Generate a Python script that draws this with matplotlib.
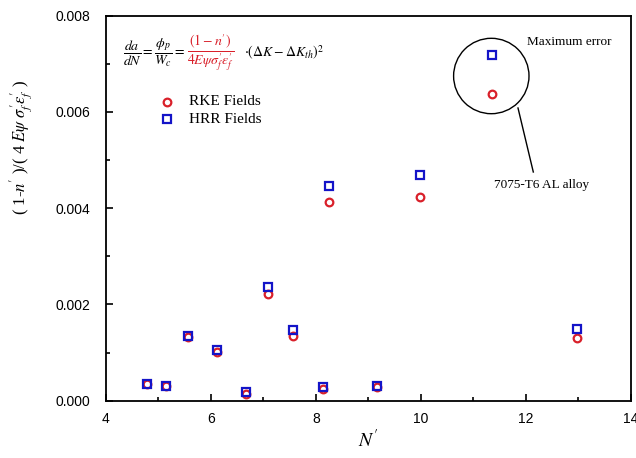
import numpy as np
import matplotlib
matplotlib.use('Agg')
import matplotlib.pyplot as plt
from matplotlib.patches import Ellipse

plt.rcParams['mathtext.fontset'] = 'stix'

# N' values and the two estimates
n_prime = [4.78, 5.14, 5.56, 6.12, 6.66, 7.09, 7.57, 8.13, 8.25, 9.16, 9.99, 11.36, 12.98]
rke = [0.00034, 0.00031, 0.00133, 0.00101, 0.00013, 0.00222, 0.00135, 0.00025, 0.00413, 0.00028, 0.00423, 0.00637, 0.00130]
hrr = [0.00034, 0.00031, 0.00134, 0.00106, 0.00018, 0.00236, 0.00146, 0.00028, 0.00447, 0.00031, 0.00469, 0.00718, 0.00148]

red = '#d9202a'
blue = '#1414c8'

fig = plt.figure(figsize=(6.36, 4.58), dpi=100)
ax = fig.add_axes([106/636, 1-400.7/458, (630.7-106)/636, (400.7-15.7)/458])

ax.plot(n_prime, rke, 'o', ms=5.5, mfc='none', mec=red, mew=1.6)
ax.plot(n_prime, hrr, 's', ms=5.2, mfc='none', mec=blue, mew=1.6)

ax.set_xlim(4, 14)
ax.set_ylim(0, 0.008)
ax.set_xticks([4, 6, 8, 10, 12, 14])
ax.set_xticks([5, 7, 9, 11, 13], minor=True)
ax.set_yticks([0, 0.002, 0.004, 0.006, 0.008])
ax.set_yticks([0.001, 0.003, 0.005, 0.007], minor=True)
ax.set_yticklabels(['0.000', '0.002', '0.004', '0.006', '0.008'])
ax.tick_params(which='both', direction='in', top=False, right=False, width=1.2)
ax.tick_params(which='major', length=5, labelsize=10)
ax.tick_params(which='minor', length=3)
ax.tick_params(axis='y', which='major', pad=11)
ax.tick_params(axis='x', which='major', pad=8)
for lab in ax.get_xticklabels() + ax.get_yticklabels():
    lab.set_fontfamily('Liberation Sans')
for s in ax.spines.values():
    s.set_linewidth(1.3)

# legend drawn by hand, like the original
def px(x, y):
    return (x/636, 1-y/458)

fig.lines.append(plt.Line2D([166.7/636], [1-101.7/458], marker='o', ms=5.5, mfc='none', mec=red, mew=1.6,
                            transform=fig.transFigure))
fig.lines.append(plt.Line2D([166.7/636], [1-119.3/458], marker='s', ms=5.2, mfc='none', mec=blue, mew=1.6,
                            transform=fig.transFigure))
fig.text(*px(189, 101.7), 'RKE Fields', family='Liberation Serif', fontsize=11, va='center')
fig.text(*px(189, 119.3), 'HRR Fields', family='Liberation Serif', fontsize=11, va='center')

# formula
fig.text(*px(123, 53), r'$\dfrac{da}{dN}=\dfrac{\phi_p}{W_c}=$', fontsize=10, va='center')
fig.text(*px(187, 53), r"$\dfrac{\left(1-n^{\prime}\right)}{4E\psi\sigma^{\prime}_f\varepsilon^{\prime}_f}$",
         fontsize=10, va='center', color=red)
fig.text(*px(244, 53), r'$\cdot\left(\Delta K-\Delta K_{th}\right)^2$', fontsize=10, va='center')

# annotation circle
circ = Ellipse(px(491.3, 76), 75.4/636, 75.4/458, transform=fig.transFigure, fill=False, ec='black', lw=1)
fig.add_artist(circ)
fig.lines.append(plt.Line2D([518/636, 533.3/636], [1-108/458, 1-172/458], color='black', lw=1,
                            transform=fig.transFigure))
fig.text(*px(527, 42), 'Maximum error', family='Liberation Serif', fontsize=9.5, va='center')
fig.text(*px(542, 185), '7075-T6 AL alloy', family='Liberation Serif', fontsize=9.5, va='center', ha='center')

# axis labels
fig.text(*px(22, 148), r"( 1-$n^{\prime}$ )/( 4 $E\psi$ $\sigma^{\prime}_f\varepsilon^{\prime}_f$ )",
         family='Liberation Serif', fontsize=12, rotation=90, ha='center', va='center')
fig.text(*px(368, 440), r"$N^{\prime}$", fontsize=14, ha='center', va='center')

fig.savefig('out.png', dpi=100)
